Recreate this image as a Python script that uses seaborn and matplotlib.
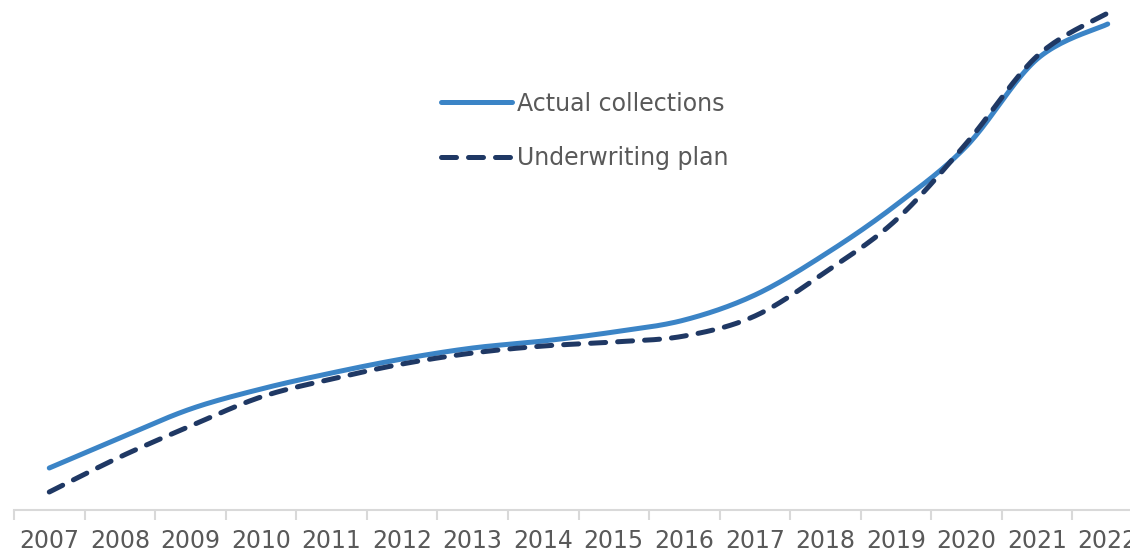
import numpy as np
import pandas as pd
import matplotlib
matplotlib.use("Agg")
import matplotlib.pyplot as plt
import seaborn as sns

# ── DATA (arbitrary units) ───────────────────────────────────────────────────
YEARS = [str(y) for y in range(2007, 2023)]
ACTUAL = [42, 72, 101, 121, 137, 151, 162, 169, 178, 190, 215, 256, 305, 364, 451, 486]
PLAN = [18, 53, 84, 113, 131, 146, 157, 164, 168, 174, 194, 238, 290, 367, 454, 497]

BLUE = "#3B84C6"
NAVY = "#1F3864"
TEXT = "#595959"
AXIS = "#D9D9D9"


def smooth(xs, ys, n=24):
    """Bezier smoothing like Excel's 'smoothed line' option."""
    p = np.column_stack([xs, ys]).astype(float)
    p = np.vstack([p[0], p, p[-1]])
    out_x, out_y = [], []
    t = np.linspace(0, 1, n)[:, None]
    for i in range(1, len(p) - 2):
        p0, p1, p2, p3 = p[i - 1], p[i], p[i + 1], p[i + 2]
        c1 = p1 + (p2 - p0) / 6
        c2 = p2 - (p3 - p1) / 6
        seg = ((1 - t) ** 3) * p1 + 3 * ((1 - t) ** 2) * t * c1 \
            + 3 * (1 - t) * t ** 2 * c2 + t ** 3 * p2
        out_x.extend(seg[:, 0])
        out_y.extend(seg[:, 1])
    return np.array(out_x), np.array(out_y)


sns.set_theme(style="white")
plt.rcParams["font.family"] = ["DejaVu Sans"]

fig = plt.figure(figsize=(11.3, 5.52), dpi=100)
ax = fig.add_axes([14 / 1130, 42 / 552, 1129 / 1130, 510 / 552])

x = np.arange(len(YEARS))
frames = []
for name, vals in [("Actual collections", ACTUAL), ("Underwriting plan", PLAN)]:
    sx, sy = smooth(x, vals)
    frames.append(pd.DataFrame({"x": sx, "y": sy, "series": name}))
df = pd.concat(frames, ignore_index=True)

sns.lineplot(data=df, x="x", y="y", hue="series", style="series",
             palette={"Actual collections": BLUE, "Underwriting plan": NAVY},
             dashes={"Actual collections": "", "Underwriting plan": (3.0, 2.4)},
             linewidth=3.6, sort=False, estimator=None, ax=ax)
for line in ax.get_lines():
    line.set_solid_capstyle("round")
    line.set_dash_capstyle("round")

ax.set_xlim(-0.5, len(YEARS) - 0.5)
ax.set_ylim(0, 510)
ax.set_yticks([])
ax.set_xlabel("")
ax.set_ylabel("")
for side in ["top", "right", "left"]:
    ax.spines[side].set_visible(False)
ax.spines["bottom"].set_color(AXIS)
ax.spines["bottom"].set_linewidth(1.5)

ax.set_xticks(x)
ax.set_xticklabels(YEARS, fontsize=17, color=TEXT)
ax.set_xticks(np.arange(-0.5, len(YEARS)), minor=True)
ax.tick_params(axis="x", which="major", length=0, pad=14)
ax.tick_params(axis="x", which="minor", length=7, width=1.5, color=AXIS,
               direction="out", bottom=True)

handles, labels = ax.get_legend_handles_labels()
leg = ax.legend(handles, labels, loc="center left",
                bbox_to_anchor=(441 / 1130, 1 - 131 / 552),
                bbox_transform=fig.transFigure, frameon=False,
                fontsize=17, handlelength=3.0, handletextpad=0.22,
                labelspacing=1.3, borderpad=0, borderaxespad=0)
for t in leg.get_texts():
    t.set_color(TEXT)
for h in leg.get_lines():
    h.set_linewidth(3.6)
    h.set_solid_capstyle("round")
    h.set_dash_capstyle("round")

fig.savefig("out.png", dpi=100)
